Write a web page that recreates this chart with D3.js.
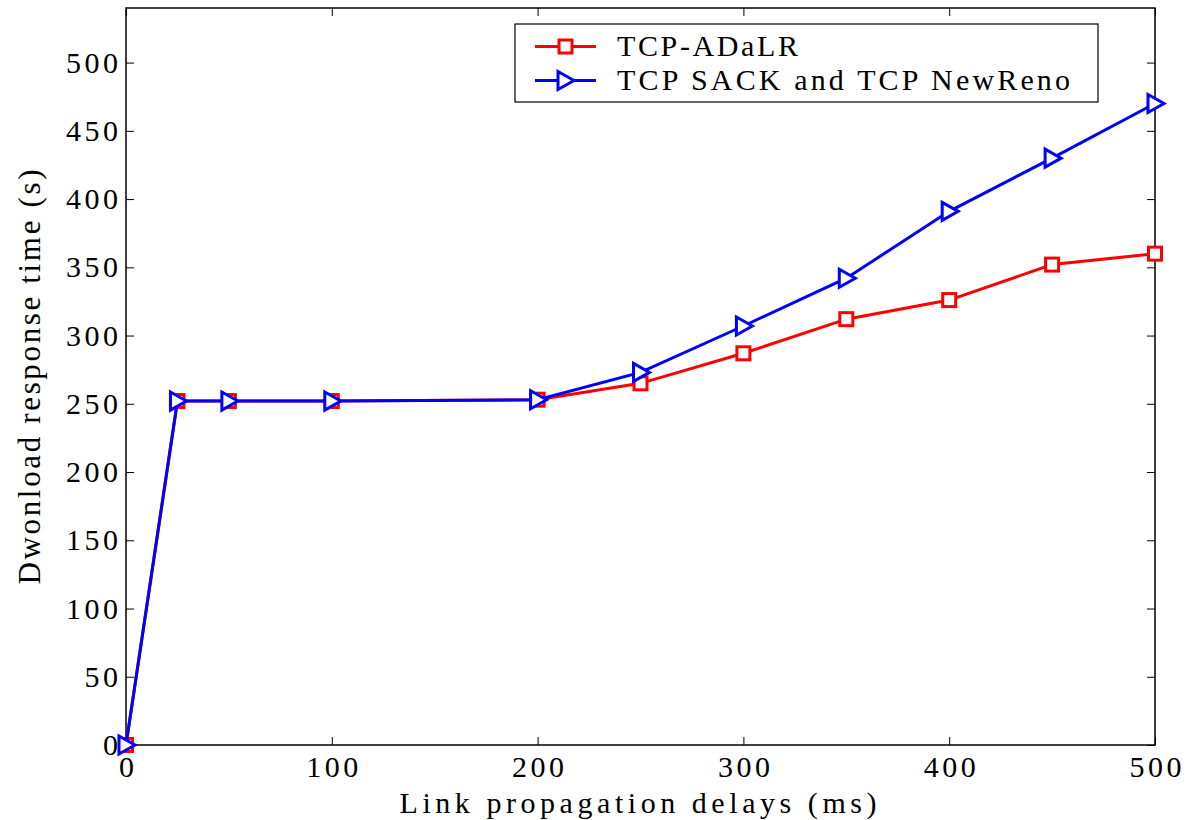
<!DOCTYPE html>
<html><head><meta charset="utf-8">
<script src="https://cdn.jsdelivr.net/npm/d3@7"></script>
<style>body{margin:0;background:#fff} text{font-family:'Liberation Serif','Times New Roman',serif}</style>
</head><body>
<svg id="chart" width="1186" height="820"></svg>
<script>
const delays = [0, 25, 50, 100, 200, 250, 300, 350, 400, 450, 500];
const adalr = [0, 252, 252, 252, 253, 265, 287, 312, 326, 352, 360];
const sack = [0, 252, 252, 252, 253, 273, 307, 342, 391, 430, 470];
const xTicks = [0, 100, 200, 300, 400, 500];
const yTicks = [0, 50, 100, 150, 200, 250, 300, 350, 400, 450, 500];
const seriesNames = ["TCP-ADaLR", "TCP SACK and TCP NewReno"];

const svg = d3.select("#chart");
const L = 126, R = 1155, T = 8, B = 745;
const x = d3.scaleLinear().domain([0, 500]).range([L, R]);
const y = d3.scaleLinear().domain([0, 540]).range([B, T]);
const font = "'Liberation Serif', 'Times New Roman', serif";
const ls = 3.5;

// frame
svg.append("rect").attr("x", L).attr("y", T).attr("width", R - L).attr("height", B - T)
  .attr("fill", "none").attr("stroke", "#000").attr("stroke-width", 1.5);

// axes with inward ticks
const gx = svg.append("g").attr("transform", `translate(0,${B})`)
  .call(d3.axisBottom(x).tickValues(xTicks).tickSizeInner(-8).tickSizeOuter(0).tickPadding(11));
const gxt = svg.append("g").attr("transform", `translate(0,${T})`)
  .call(d3.axisTop(x).tickValues(xTicks).tickSizeInner(-8).tickSizeOuter(0).tickFormat(""));
const gy = svg.append("g").attr("transform", `translate(${L},0)`)
  .call(d3.axisLeft(y).tickValues(yTicks).tickSizeInner(-8).tickSizeOuter(0).tickPadding(4.5));
const gyr = svg.append("g").attr("transform", `translate(${R},0)`)
  .call(d3.axisRight(y).tickValues(yTicks).tickSizeInner(-8).tickSizeOuter(0).tickFormat(""));
[gx, gxt, gy, gyr].forEach(g => {
  g.select(".domain").remove();
  g.selectAll("line").attr("stroke", "#000").attr("stroke-width", 1);
  g.selectAll("text").attr("font-family", font).attr("font-size", 30).attr("fill", "#000")
   .attr("letter-spacing", ls);
});
gx.selectAll("text").attr("dy", "0.71em").attr("dx", ls / 2);

// lines
const line = vals => d3.line().x((d, i) => x(delays[i])).y(d => y(d))(vals);
svg.append("path").attr("d", line(adalr)).attr("fill", "none").attr("stroke", "#ff0000").attr("stroke-width", 3);
svg.append("g").selectAll("rect").data(adalr).join("rect")
  .attr("x", (d, i) => x(delays[i]) - 6.5).attr("y", d => y(d) - 6.5)
  .attr("width", 13).attr("height", 13).attr("fill", "#fff").attr("stroke", "#ff0000").attr("stroke-width", 3);

const tri = (cx, cy) => `M${cx - 7},${cy - 9}L${cx + 9},${cy}L${cx - 7},${cy + 9}Z`;
svg.append("path").attr("d", line(sack)).attr("fill", "none").attr("stroke", "#0000ff").attr("stroke-width", 3);
svg.append("g").selectAll("path").data(sack).join("path")
  .attr("d", (d, i) => tri(x(delays[i]), y(d)))
  .attr("fill", "#fff").attr("stroke", "#0000ff").attr("stroke-width", 3).attr("stroke-linejoin", "miter");

// legend
const lg = svg.append("g");
lg.append("rect").attr("x", 515).attr("y", 24).attr("width", 583).attr("height", 78)
  .attr("fill", "#fff").attr("stroke", "#000").attr("stroke-width", 1.2);
const rows = [46.5, 80.5];
lg.append("line").attr("x1", 535).attr("x2", 596).attr("y1", rows[0]).attr("y2", rows[0]).attr("stroke", "#ff0000").attr("stroke-width", 3);
lg.append("rect").attr("x", 559).attr("y", rows[0] - 6.5).attr("width", 13).attr("height", 13).attr("fill", "#fff").attr("stroke", "#ff0000").attr("stroke-width", 3);
lg.append("line").attr("x1", 535).attr("x2", 596).attr("y1", rows[1]).attr("y2", rows[1]).attr("stroke", "#0000ff").attr("stroke-width", 3);
lg.append("path").attr("d", tri(565, rows[1])).attr("fill", "#fff").attr("stroke", "#0000ff").attr("stroke-width", 3);
const lens = [181, 453];
seriesNames.forEach((n, i) => {
  lg.append("text").attr("x", 617).attr("y", rows[i]).attr("dy", "0.33em")
    .attr("font-family", font).attr("font-size", 30).attr("textLength", lens[i]).attr("lengthAdjust", "spacing")
    .text(n);
});

// axis titles
svg.append("text").attr("x", 638).attr("y", 802).attr("dy", "0.35em").attr("text-anchor", "middle")
  .attr("font-family", font).attr("font-size", 30).attr("textLength", 477).attr("lengthAdjust", "spacing")
  .text("Link propagation delays (ms)");
svg.append("text").attr("transform", "translate(29,377) rotate(-90)").attr("dy", "0.35em").attr("text-anchor", "middle")
  .attr("font-family", font).attr("font-size", 31).attr("textLength", 415).attr("lengthAdjust", "spacing")
  .text("Dwonload response time (s)");
</script>
</body></html>
